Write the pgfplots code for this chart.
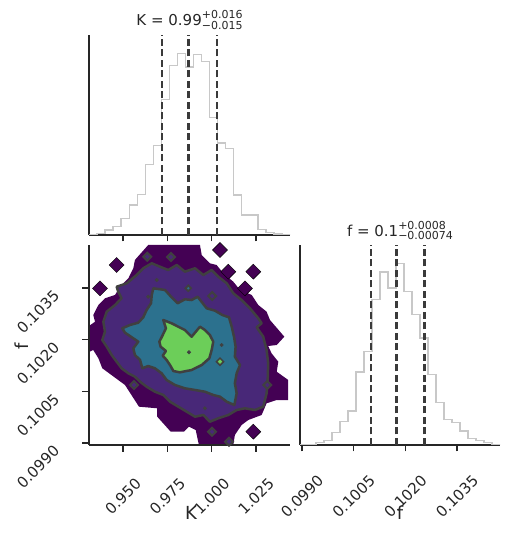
\documentclass[border=0pt]{standalone}
\usepackage{pgfplots}
\pgfplotsset{compat=1.18}
\usepackage{fontspec}
\setmainfont{DejaVu Sans}
\definecolor{txt}{HTML}{262626}
\definecolor{histc}{HTML}{C8C8C8}
\definecolor{qc}{HTML}{3A3A3A}
\definecolor{c0}{HTML}{440154}
\definecolor{c1}{HTML}{482878}
\definecolor{c2}{HTML}{2C718E}
\definecolor{c3}{HTML}{6CCE59}
\definecolor{cl}{HTML}{404040}
\pgfplotsset{
  corner/.style={
    scale only axis, height=200pt,
    axis lines=left, axis line style={-, draw=txt, line width=1.25pt},
    tick align=outside, major tick length=6.5pt,
    tick style={draw=txt, line width=1.25pt},
    scaled ticks=false,
    ticklabel style={font=\fontsize{15}{18}\selectfont, text=txt, inner sep=0pt},
    xticklabel style={yshift=-45pt, rotate=45, anchor=center},
    yticklabel style={xshift=-30pt, yshift=-1pt, rotate=45, anchor=north east},
    title style={font=\fontsize{15}{18}\selectfont, text=txt, inner sep=0pt, anchor=base, yshift=-6pt},
    label style={font=\fontsize{18}{21}\selectfont, text=txt},
  },
  quant/.style={qc, line width=2.5pt, dash pattern=on 7pt off 3.5pt},
  hist/.style={histc, line width=1.3pt, const plot},
}
\newcommand{\scr}{\fontsize{11}{11}\selectfont}
\begin{document}
\begin{tikzpicture}
\path[use as bounding box] (0,0) rectangle (509pt,534pt);
% ---------- top-left: K histogram ----------
\begin{axis}[corner, at={(89pt,299pt)}, anchor=south west, width=201pt,
  xmin=0.9308, xmax=1.0442, ymin=0, ymax=601.7,
  ytick=\empty, xtick={0.95,0.975,1,1.025}, xticklabels={\mbox{},\mbox{},\mbox{},\mbox{}},
  title={K = 0.99\makebox[0pt][l]{\raisebox{7pt}{\scr +0.016}}\raisebox{-3.3pt}{\scr −0.015}},
  title style={at={(axis description cs:0.5,1.045)}}]
\addplot[hist] coordinates {
(0.9308,0) (0.9308,2) (0.9353,5) (0.9399,15) (0.9444,25) (0.9489,50) (0.9535,90)
(0.9580,122) (0.9626,213) (0.9671,270) (0.9716,407) (0.9762,510) (0.9807,547)
(0.9852,505) (0.9898,542) (0.9943,522) (0.9988,353) (1.0034,277) (1.0079,260)
(1.0124,120) (1.0170,60) (1.0215,60) (1.0261,17) (1.0306,8) (1.0351,3) (1.0397,1)
(1.0442,1) (1.0442,0)};
\addplot[quant] coordinates {(0.972,0) (0.972,601.7)};
\addplot[quant] coordinates {(0.987,0) (0.987,601.7)};
\addplot[quant] coordinates {(1.003,0) (1.003,601.7)};
\end{axis}
% ---------- bottom-right: f histogram ----------
\begin{axis}[corner, at={(300pt,89pt)}, anchor=south west, width=200pt,
  xmin=0.098942, xmax=0.104748, ymin=0, ymax=601.7,
  ytick=\empty, xtick={0.099,0.1005,0.102,0.1035},
  xticklabels={0.0990,0.1005,0.1020,0.1035},
  xlabel={f}, xlabel style={at={(axis description cs:0.5,-0.34)}, anchor=center},
  title={f = 0.1\makebox[0pt][l]{\raisebox{7pt}{\scr +0.0008}}\raisebox{-3.3pt}{\scr −0.00074}},
  title style={at={(axis description cs:0.5,1.043)}}]
\addplot[hist] coordinates {
(0.098942,0) (0.098942,0) (0.099174,2) (0.099406,7) (0.099639,13) (0.099871,37)
(0.100103,70) (0.100335,102) (0.100568,220) (0.100800,282) (0.101032,437)
(0.101264,520) (0.101497,472) (0.101729,547) (0.101961,462) (0.102193,392)
(0.102426,322) (0.102658,212) (0.102890,127) (0.103122,77) (0.103355,67)
(0.103587,42) (0.103819,20) (0.104051,13) (0.104284,7) (0.104516,2)
(0.104748,2) (0.104748,0)};
\addplot[quant] coordinates {(0.10101,0) (0.10101,601.7)};
\addplot[quant] coordinates {(0.10175,0) (0.10175,601.7)};
\addplot[quant] coordinates {(0.10255,0) (0.10255,601.7)};
\end{axis}
% ---------- bottom-left: 2D contours ----------
\begin{axis}[corner, at={(89pt,89pt)}, anchor=south west, width=201pt, axis on top,
  xmin=0.9308, xmax=1.0442, ymin=0.098942, ymax=0.104748,
  xtick={0.95,0.975,1,1.025}, xticklabels={0.950,0.975,1.000,1.025},
  ytick={0.099,0.1005,0.102,0.1035}, yticklabels={0.0990,0.1005,0.1020,0.1035},
  xlabel={K}, xlabel style={at={(axis description cs:0.507,-0.34)}, anchor=center},
  ylabel={f}, ylabel style={at={(axis description cs:-0.333,0.495)}, anchor=center}]
% outermost level
\addplot[fill=c0, draw=none] coordinates {
(0.9567,0.104313) (0.9642,0.104748) (0.9737,0.104748) (0.9831,0.104748) (0.9934,0.104748)
(0.9944,0.104458) (0.9990,0.104217) (1.0028,0.104167) (1.0066,0.103926) (1.0122,0.103683)
(1.0160,0.103442) (1.0226,0.103297) (1.0263,0.103006) (1.0310,0.102812) (1.0329,0.102571)
(1.0410,0.102086) (1.0367,0.101845) (1.0319,0.101816) (1.0338,0.101604) (1.0376,0.101360)
(1.0367,0.101070) (1.0432,0.100829) (1.0432,0.100248) (1.0367,0.100248) (1.0310,0.100153)
(1.0282,0.099813) (1.0207,0.099668) (1.0169,0.099523) (1.0131,0.099232) (1.0122,0.098942)
(0.9928,0.098942) (0.9910,0.099377) (0.9872,0.099473) (0.9844,0.099328) (0.9769,0.099328)
(0.9693,0.099764) (0.9693,0.100007) (0.9590,0.100054) (0.9511,0.100684) (0.9383,0.101169)
(0.9361,0.101459)
(0.9332,0.101700) (0.9308,0.101642) (0.9308,0.102397) (0.9342,0.102521) (0.9332,0.102716)
(0.9361,0.103006) (0.9398,0.103201) (0.9455,0.103297) (0.9483,0.103537) (0.9530,0.103781)
(0.9558,0.104072)} --cycle;
\addplot[only marks, mark=square*, mark size=5.3pt, mark options={rotate=45, fill=c0, draw=none}]
coordinates {(0.9464,0.104167) (0.9370,0.103491) (1.0094,0.103973) (1.0235,0.103973)
(1.0188,0.103491) (1.0047,0.104603) (1.0235,0.099328)};
% second level
\addplot[fill=c1, draw=cl, line width=2.5pt, line join=round] coordinates {
(0.9464,0.103537) (0.9521,0.103636) (0.9577,0.103877) (0.9614,0.104072) (0.9662,0.104217)
(0.9708,0.104118) (0.9755,0.104022) (0.9803,0.104167) (0.9849,0.103973) (0.9906,0.104072)
(0.9953,0.103877) (1.0000,0.104022) (1.0037,0.103828) (1.0085,0.103636) (1.0122,0.103346)
(1.0169,0.103151) (1.0216,0.102910) (1.0263,0.102620) (1.0282,0.102475) (1.0254,0.102359)
(1.0291,0.102086) (1.0310,0.101700) (1.0319,0.101314) (1.0316,0.100829) (1.0310,0.100443)
(1.0291,0.100054) (1.0244,0.099958) (1.0188,0.100007) (1.0141,0.099958) (1.0094,0.099813)
(1.0037,0.099717) (0.9990,0.099618) (0.9953,0.099813) (0.9906,0.099764) (0.9859,0.099909)
(0.9812,0.100054) (0.9765,0.100199) (0.9727,0.100394) (0.9680,0.100489) (0.9633,0.100634)
(0.9596,0.100780) (0.9567,0.100925) (0.9530,0.101023) (0.9492,0.101169) (0.9464,0.101360)
(0.9436,0.101555) (0.9408,0.101796) (0.9383,0.101990) (0.9398,0.102231) (0.9389,0.102521)
(0.9408,0.102812) (0.9455,0.103006) (0.9492,0.103201) (0.9473,0.103392)} --cycle;
\addplot[only marks, mark=square*, mark size=2.8pt, mark options={rotate=45, fill=c1, draw=cl, line width=2pt}]
coordinates {(0.9562,0.100684) (1.0314,0.100684) (0.9637,0.104408) (0.9770,0.104400)
(1.0003,0.103267) (1.0002,0.099328) (1.0098,0.099038)};
% third level
\addplot[fill=c2, draw=cl, line width=2.5pt, line join=round] coordinates {
(0.9671,0.103491) (0.9737,0.103442) (0.9771,0.103247) (0.9808,0.103056) (0.9849,0.103172)
(0.9887,0.103151) (0.9921,0.103247) (0.9947,0.103073) (0.9972,0.102910) (1.0019,0.102841)
(1.0060,0.102716) (1.0098,0.102649) (1.0113,0.102376) (1.0126,0.102086) (1.0135,0.101796)
(1.0131,0.101505) (1.0160,0.101264) (1.0141,0.101023) (1.0131,0.100733) (1.0141,0.100443)
(1.0128,0.100103) (1.0085,0.100199) (1.0047,0.100344) (1.0009,0.100394) (0.9962,0.100489)
(0.9906,0.100539) (0.9849,0.100588) (0.9793,0.100684) (0.9746,0.100829) (0.9718,0.101023)
(0.9680,0.101169) (0.9642,0.101235) (0.9609,0.101169) (0.9596,0.101410) (0.9567,0.101555)
(0.9558,0.101749) (0.9586,0.101941) (0.9558,0.102039) (0.9511,0.102202) (0.9496,0.102330)
(0.9539,0.102426) (0.9586,0.102492) (0.9614,0.102649) (0.9633,0.102861) (0.9658,0.103056)
(0.9662,0.103297)} --cycle;
\addplot[only marks, mark=square*, mark size=2pt, mark options={rotate=45, fill=c2, draw=cl, line width=1.8pt}]
coordinates {(0.9868,0.103491)};
% innermost level
\addplot[fill=c3, draw=cl, line width=2.5pt, line join=round] coordinates {
(0.9727,0.102571) (0.9774,0.102475) (0.9812,0.102376) (0.9849,0.102280) (0.9887,0.102086)
(0.9934,0.102376) (0.9962,0.102280) (0.9990,0.102135) (1.0009,0.101941) (1.0000,0.101700)
(0.9987,0.101459) (0.9944,0.101264) (0.9887,0.101119) (0.9821,0.101052) (0.9784,0.101090)
(0.9765,0.101264) (0.9746,0.101410) (0.9724,0.101534) (0.9742,0.101671) (0.9712,0.101796)
(0.9705,0.101941) (0.9724,0.102135) (0.9742,0.102330)} --cycle;
\addplot[only marks, mark=square*, mark size=2.5pt, mark options={rotate=45, fill=c3, draw=cl, line width=1.5pt}]
coordinates {(1.0047,0.101360)};
\addplot[only marks, mark=*, mark size=1.8pt, mark options={fill=cl, draw=cl}]
coordinates {(0.9690,0.103732) (0.9642,0.103247) (0.9962,0.100007) (0.9872,0.101633) (1.0056,0.101845)};
\end{axis}
\end{tikzpicture}
\end{document}
